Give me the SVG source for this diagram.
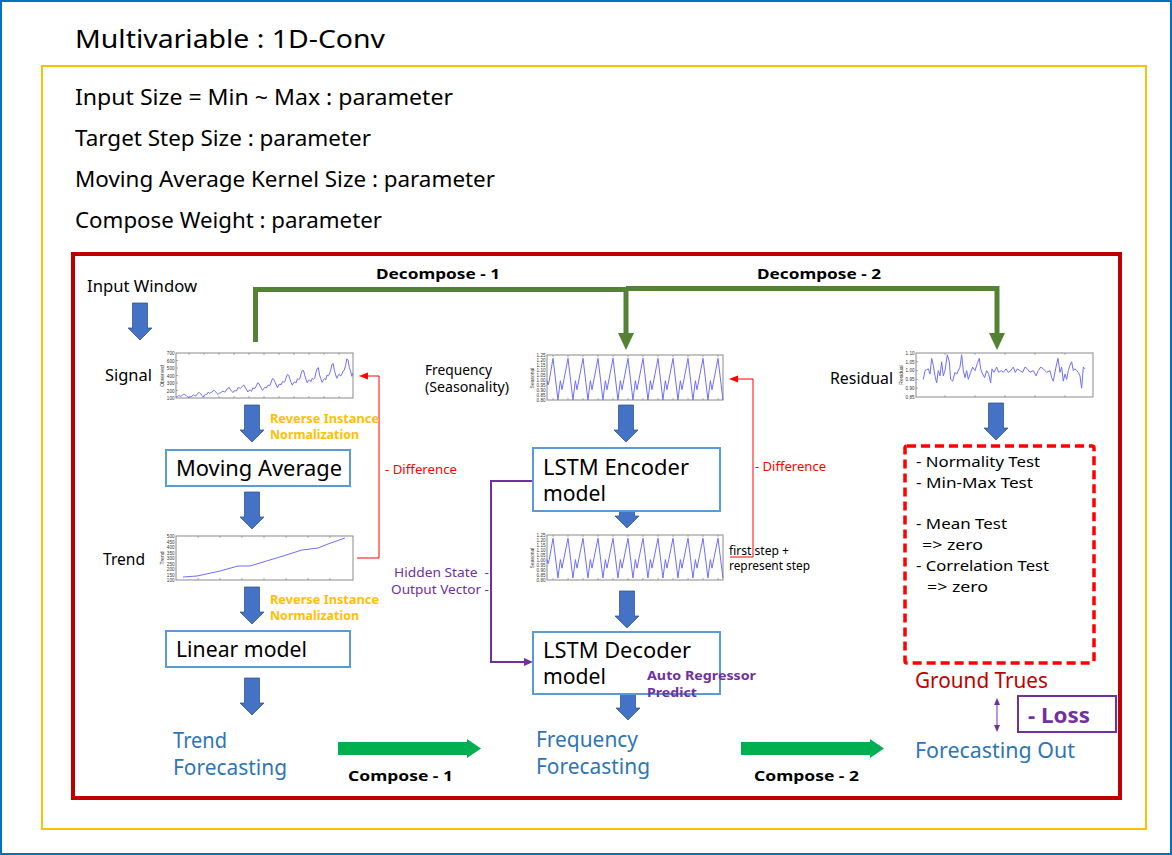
<svg xmlns="http://www.w3.org/2000/svg" xmlns:xlink="http://www.w3.org/1999/xlink" width="1172" height="855" viewBox="0 0 1172 855">
<style>
text{font-family:"Noto Sans","Open Sans",sans-serif;fill:#000}
.b{font-weight:700}
.box{fill:#fff;stroke:#5B9BD5;stroke-width:2}
.chart{fill:#fff;stroke:#8a8a8a;stroke-width:1}
.dl{fill:none;stroke:#6E6EFF;stroke-width:1;vector-effect:non-scaling-stroke}
.tk{fill:none;stroke:#777;stroke-width:0.6}
.fc{fill:#2E75B6}
.rin{fill:#FFC000;font-weight:700;font-size:13px}
.diff{fill:#FF0000;font-size:13px}
.pur{fill:#7030A0}
.tl{font-family:"Liberation Sans",sans-serif;font-size:4.6px;fill:#333}
.ax{font-family:"Liberation Sans",sans-serif;font-size:5px;fill:#333}
.red{fill:none;stroke:#FF0000;stroke-width:1}
.grn{fill:none;stroke:#548235;stroke-width:5}
</style>
<defs>
<path id="ba" d="M-7.5,0H7.5V25H12L0,37L-12,25H-7.5Z" fill="#4472C4" stroke="#2F528F" stroke-width="0.75"/>
<polyline id="seas" class="dl" points="-0.4,0.55 -0.33,0.65 -0.25,0.55 0,0.03 0.33,1 0.49,0.55 0.6,0.76 1,0.03 1.33,1 1.49,0.55 1.6,0.76 2,0.03 2.33,1 2.49,0.55 2.6,0.76 3,0.03 3.33,1 3.49,0.55 3.6,0.76 4,0.03 4.33,1 4.49,0.55 4.6,0.76 5,0.03 5.33,1 5.49,0.55 5.6,0.76 6,0.03 6.33,1 6.49,0.55 6.6,0.76 7,0.03 7.33,1 7.49,0.55 7.6,0.76 8,0.03 8.33,1 8.49,0.55 8.6,0.76 9,0.03 9.33,1 9.49,0.55 9.6,0.76 10,0.03 10.33,1 10.49,0.55 10.6,0.76 11,0.03 11.33,1"/>
</defs>

<rect x="1" y="1" width="1170" height="853" fill="#fff" stroke="#0070C0" stroke-width="2"/>
<text x="75" y="48" font-size="26" textLength="310" lengthAdjust="spacingAndGlyphs">Multivariable : 1D-Conv</text>
<rect x="42" y="66" width="1104" height="763" fill="none" stroke="#FFC000" stroke-width="2"/>

<g id="params" font-size="22">
<text x="75" y="105" font-size="22" textLength="378" lengthAdjust="spacingAndGlyphs">Input Size = Min ~ Max : parameter</text>
<text x="75" y="146" font-size="22" textLength="296" lengthAdjust="spacingAndGlyphs">Target Step Size : parameter</text>
<text x="75" y="187" font-size="22" textLength="420" lengthAdjust="spacingAndGlyphs">Moving Average Kernel Size : parameter</text>
<text x="75" y="228" font-size="22" textLength="307" lengthAdjust="spacingAndGlyphs">Compose Weight : parameter</text>
</g>

<rect x="73" y="254" width="1047" height="544" fill="none" stroke="#C00000" stroke-width="4"/>

<g id="connectors">
<path class="grn" d="M255.5,342V289.5H626"/>
<path class="grn" d="M626,288.5H997V334"/>
<path class="grn" d="M626,289V334"/>
<polygon points="618,333 634,333 626,350" fill="#548235"/>
<polygon points="989,333 1005,333 997,350" fill="#548235"/>
<text class="b" x="376" y="279" font-size="15" textLength="124" lengthAdjust="spacingAndGlyphs">Decompose - 1</text>
<text class="b" x="757" y="279" font-size="15" textLength="124" lengthAdjust="spacingAndGlyphs">Decompose - 2</text>
<use xlink:href="#ba" href="#ba" x="140" y="303"/>
<use xlink:href="#ba" href="#ba" x="252" y="405"/>
<use xlink:href="#ba" href="#ba" x="252" y="492"/>
<use xlink:href="#ba" href="#ba" x="252" y="587"/>
<use xlink:href="#ba" href="#ba" x="252" y="678"/>
<use xlink:href="#ba" href="#ba" x="626" y="405"/>
<use xlink:href="#ba" href="#ba" x="627" y="491"/>
<use xlink:href="#ba" href="#ba" x="627" y="591"/>
<use xlink:href="#ba" href="#ba" x="628" y="683"/>
<use xlink:href="#ba" href="#ba" x="996" y="403"/>
<path class="red" d="M357,558H379V376H367"/>
<polygon points="368,372.5 368,379.5 359,376" fill="#FF0000"/>
<text class="diff" x="385" y="474" textLength="72" lengthAdjust="spacingAndGlyphs">- Difference</text>
<path class="red" d="M730,557H753V379H737"/>
<polygon points="738,375.5 738,382.5 729,379" fill="#FF0000"/>
<text class="diff" x="755" y="471" textLength="71" lengthAdjust="spacingAndGlyphs">- Difference</text>
<path d="M533,481H491V662H524" fill="none" stroke="#7030A0" stroke-width="2"/>
<polygon points="524,658 524,666 533,662" fill="#7030A0"/>
<text class="pur" x="394" y="577" font-size="13" textLength="95" lengthAdjust="spacingAndGlyphs" xml:space="preserve">Hidden State  -</text>
<text class="pur" x="391" y="594" font-size="13" textLength="98" lengthAdjust="spacingAndGlyphs">Output Vector -</text>
<polygon points="338,742 467,742 467,739 481,748.5 467,758 467,755 338,755" fill="#00B050"/>
<polygon points="741,742 870,742 870,739 884,748.5 870,758 870,755 741,755" fill="#00B050"/>
<text class="b" x="348" y="781" font-size="15" textLength="105" lengthAdjust="spacingAndGlyphs">Compose - 1</text>
<text class="b" x="754" y="781" font-size="15" textLength="105" lengthAdjust="spacingAndGlyphs">Compose - 2</text>
<line x1="997" y1="704" x2="997" y2="726" stroke="#7030A0" stroke-width="1"/>
<polygon points="994,705 1000,705 997,698" fill="#7030A0"/>
<polygon points="994,725 1000,725 997,732" fill="#7030A0"/>
</g>

<g id="input-window">
<text x="87" y="292" font-size="16" textLength="110" lengthAdjust="spacingAndGlyphs">Input Window</text>
</g>

<g id="signal">
<text x="105" y="381" font-size="17" textLength="47" lengthAdjust="spacingAndGlyphs">Signal</text>
<rect class="chart" x="176" y="353" width="177" height="45"/>
<path class="tk" d="M189,353v2M204,353v2M219,353v2M234,353v2M249,353v2M264,353v2M279,353v2M294,353v2M309,353v2M324,353v2M339,353v2M189,398v-2M204,398v-2M219,398v-2M234,398v-2M249,398v-2M264,398v-2M279,398v-2M294,398v-2M309,398v-2M324,398v-2M339,398v-2M176,360.5h2M176,368h2M176,375.5h2M176,383h2M176,390.5h2"/>
<g text-anchor="end">
<text class="tl" x="174.5" y="355">700</text><text class="tl" x="174.5" y="362.5">600</text><text class="tl" x="174.5" y="370">500</text><text class="tl" x="174.5" y="377.5">400</text><text class="tl" x="174.5" y="385">300</text><text class="tl" x="174.5" y="392.5">200</text><text class="tl" x="174.5" y="399.5">100</text>
</g>
<text class="ax" transform="translate(163.5,376) rotate(-90)" text-anchor="middle">Observed</text>
<polyline class="dl" transform="matrix(1.2378,0,0,-0.075,176,405.5)" points="0,112 1,118 2,132 3,129 4,121 5,135 6,148 7,148 8,136 9,119 10,104 11,118 12,115 13,126 14,141 15,135 16,125 17,149 18,170 19,170 20,158 21,133 22,114 23,140 24,145 25,150 26,178 27,163 28,172 29,178 30,199 31,199 32,184 33,162 34,146 35,166 36,171 37,180 38,193 39,181 40,183 41,218 42,230 43,242 44,209 45,191 46,172 47,194 48,196 49,196 50,236 51,235 52,229 53,243 54,264 55,272 56,237 57,211 58,180 59,201 60,204 61,188 62,235 63,227 64,234 65,264 66,302 67,293 68,259 69,229 70,203 71,229 72,242 73,233 74,267 75,269 76,270 77,315 78,364 79,347 80,312 81,274 82,237 83,278 84,284 85,277 86,317 87,313 88,318 89,374 90,413 91,405 92,355 93,306 94,271 95,306 96,315 97,301 98,356 99,348 100,355 101,422 102,465 103,467 104,404 105,347 106,305 107,336 108,340 109,318 110,362 111,348 112,363 113,435 114,491 115,505 116,404 117,359 118,310 119,337 120,360 121,342 122,406 123,396 124,420 125,472 126,548 127,559 128,463 129,407 130,362 131,405 132,417 133,391 134,419 135,461 136,472 137,535 138,622 139,606 140,508 141,461 142,390 143,432"/>
<text class="rin" x="270" y="423" textLength="109" lengthAdjust="spacingAndGlyphs">Reverse Instance</text>
<text class="rin" x="270" y="439" textLength="89" lengthAdjust="spacingAndGlyphs">Normalization</text>
</g>

<g id="moving-average">
<rect class="box" x="166" y="450" width="184" height="36"/>
<text x="176" y="476" font-size="21" textLength="166" lengthAdjust="spacingAndGlyphs">Moving Average</text>
</g>

<g id="trend">
<text x="103" y="565" font-size="17" textLength="42" lengthAdjust="spacingAndGlyphs">Trend</text>
<rect class="chart" x="176" y="536" width="177" height="44"/>
<path class="tk" d="M198,536v2M220,536v2M242,536v2M264,536v2M286,536v2M308,536v2M330,536v2M198,580v-2M220,580v-2M242,580v-2M264,580v-2M286,580v-2M308,580v-2M330,580v-2"/>
<g text-anchor="end">
<text class="tl" x="174.5" y="538">500</text><text class="tl" x="174.5" y="543.5">450</text><text class="tl" x="174.5" y="549">400</text><text class="tl" x="174.5" y="554.5">350</text><text class="tl" x="174.5" y="560">300</text><text class="tl" x="174.5" y="565.5">250</text><text class="tl" x="174.5" y="571">200</text><text class="tl" x="174.5" y="576.5">150</text><text class="tl" x="174.5" y="582">100</text>
</g>
<text class="ax" transform="translate(163.5,558) rotate(-90)" text-anchor="middle">Trend</text>
<polyline class="dl" points="183,577 197,576 220,571 238,566 250,566 260,563 283,556 302,550 318,548 328,544 345,538"/>
<text class="rin" x="270" y="604" textLength="109" lengthAdjust="spacingAndGlyphs">Reverse Instance</text>
<text class="rin" x="270" y="620" textLength="89" lengthAdjust="spacingAndGlyphs">Normalization</text>
</g>

<g id="linear-model">
<rect class="box" x="166" y="631" width="184" height="36"/>
<text x="176" y="657" font-size="21" textLength="131" lengthAdjust="spacingAndGlyphs">Linear model</text>
</g>

<g id="trend-forecasting">
<text class="fc" x="173" y="748" font-size="21" textLength="54" lengthAdjust="spacingAndGlyphs">Trend</text>
<text class="fc" x="173" y="775" font-size="21" textLength="114" lengthAdjust="spacingAndGlyphs">Forecasting</text>
</g>

<g id="frequency">
<text x="425" y="375" font-size="14" textLength="67" lengthAdjust="spacingAndGlyphs">Frequency</text>
<text x="425" y="392" font-size="14" textLength="84" lengthAdjust="spacingAndGlyphs">(Seasonality)</text>
<rect class="chart" x="547" y="355" width="176" height="45"/>
<path class="tk" d="M553,355v2M568,355v2M583,355v2M598,355v2M613,355v2M628,355v2M643,355v2M658,355v2M673,355v2M688,355v2M703,355v2M718,355v2M553,400v-2M568,400v-2M583,400v-2M598,400v-2M613,400v-2M628,400v-2M643,400v-2M658,400v-2M673,400v-2M688,400v-2M703,400v-2M718,400v-2"/>
<g text-anchor="end">
<text class="tl" x="545.5" y="357">1.25</text><text class="tl" x="545.5" y="362">1.20</text><text class="tl" x="545.5" y="367">1.15</text><text class="tl" x="545.5" y="372">1.10</text><text class="tl" x="545.5" y="377">1.05</text><text class="tl" x="545.5" y="382">1.00</text><text class="tl" x="545.5" y="387">0.95</text><text class="tl" x="545.5" y="392">0.90</text><text class="tl" x="545.5" y="397">0.85</text><text class="tl" x="545.5" y="402">0.80</text>
</g>
<text class="ax" transform="translate(533.5,378) rotate(-90)" text-anchor="middle">Seasonal</text>
<use xlink:href="#seas" href="#seas" transform="matrix(15,0,0,43,553,357)"/>
</g>

<g id="lstm-encoder">
<rect class="box" x="533" y="448" width="187" height="63"/>
<text x="543" y="475" font-size="21" textLength="146" lengthAdjust="spacingAndGlyphs">LSTM Encoder</text>
<text x="543" y="501" font-size="21" textLength="63" lengthAdjust="spacingAndGlyphs">model</text>
</g>

<g id="frequency-step">
<rect class="chart" x="547" y="535" width="176" height="45"/>
<path class="tk" d="M553,535v2M568,535v2M583,535v2M598,535v2M613,535v2M628,535v2M643,535v2M658,535v2M673,535v2M688,535v2M703,535v2M718,535v2M553,580v-2M568,580v-2M583,580v-2M598,580v-2M613,580v-2M628,580v-2M643,580v-2M658,580v-2M673,580v-2M688,580v-2M703,580v-2M718,580v-2"/>
<g text-anchor="end">
<text class="tl" x="545.5" y="537">1.25</text><text class="tl" x="545.5" y="542">1.20</text><text class="tl" x="545.5" y="547">1.15</text><text class="tl" x="545.5" y="552">1.10</text><text class="tl" x="545.5" y="557">1.05</text><text class="tl" x="545.5" y="562">1.00</text><text class="tl" x="545.5" y="567">0.95</text><text class="tl" x="545.5" y="572">0.90</text><text class="tl" x="545.5" y="577">0.85</text><text class="tl" x="545.5" y="582">0.80</text>
</g>
<text class="ax" transform="translate(533.5,558) rotate(-90)" text-anchor="middle">Seasonal</text>
<use xlink:href="#seas" href="#seas" transform="matrix(15,0,0,41,553,537)"/>
<text x="729" y="555" font-size="12" textLength="60" lengthAdjust="spacingAndGlyphs">first step +</text>
<text x="729" y="570" font-size="12" textLength="81" lengthAdjust="spacingAndGlyphs">represent step</text>
</g>

<g id="lstm-decoder">
<rect class="box" x="533" y="632" width="187" height="62"/>
<text x="543" y="658" font-size="21" textLength="148" lengthAdjust="spacingAndGlyphs">LSTM Decoder</text>
<text x="543" y="684" font-size="21" textLength="63" lengthAdjust="spacingAndGlyphs">model</text>
<text class="pur b" x="647" y="680" font-size="13" textLength="109" lengthAdjust="spacingAndGlyphs">Auto Regressor</text>
<text class="pur b" x="647" y="697" font-size="13" textLength="50" lengthAdjust="spacingAndGlyphs">Predict</text>
</g>

<g id="frequency-forecasting">
<text class="fc" x="536" y="747" font-size="21" textLength="102" lengthAdjust="spacingAndGlyphs">Frequency</text>
<text class="fc" x="536" y="774" font-size="21" textLength="114" lengthAdjust="spacingAndGlyphs">Forecasting</text>
</g>

<g id="residual">
<text x="830" y="384" font-size="17" textLength="63" lengthAdjust="spacingAndGlyphs">Residual</text>
<rect class="chart" x="916" y="353" width="177" height="44"/>
<path class="tk" d="M945,353v2M975,353v2M1005,353v2M1035,353v2M1065,353v2M945,397v-2M975,397v-2M1005,397v-2M1035,397v-2M1065,397v-2M916,361.8h2M916,370.6h2M916,379.4h2M916,388.2h2"/>
<g text-anchor="end">
<text class="tl" x="914.5" y="355">1.10</text><text class="tl" x="914.5" y="363.5">1.05</text><text class="tl" x="914.5" y="372.3">1.00</text><text class="tl" x="914.5" y="381.1">0.95</text><text class="tl" x="914.5" y="389.9">0.90</text><text class="tl" x="914.5" y="398.5">0.85</text>
</g>
<text class="ax" transform="translate(902.5,375) rotate(-90)" text-anchor="middle">Residual</text>
<polyline class="dl" transform="matrix(0.3333,0,0,-176,820,546.6)" points="310,0.95 315,1.0 325,1.01 330,0.98 335,1.07 340,1.03 345,0.97 350,0.93 355,1.0 360,0.97 365,1.05 370,0.97 375,1.0 382,1.09 388,1.05 392,0.95 398,0.94 405,0.99 410,0.98 420,1.02 425,1.09 430,1.0 435,0.96 440,1.0 445,0.95 452,0.99 458,1.02 465,1.0 472,1.04 478,1.07 482,1.01 488,0.98 494,0.96 500,1.0 506,0.98 512,0.93 516,1.01 522,0.99 530,1.02 536,0.99 544,1.0 550,0.99 558,1.01 565,0.99 572,1.0 580,1.02 586,0.99 592,1.01 600,1.0 608,0.99 615,1.02 622,1.01 630,0.99 640,1.0 648,0.97 655,1.0 662,1.02 670,1.01 680,0.99 690,1.0 695,0.96 700,0.94 708,1.02 714,1.07 720,0.99 725,1.02 730,0.94 735,0.98 740,0.95 745,1.0 750,1.03 755,1.05 760,1.0 765,1.01 770,1.0 775,0.99 780,0.97 785,0.9 790,1.02 795,1.01"/>
</g>

<g id="tests">
<rect x="905" y="446" width="189" height="217" rx="2" fill="none" stroke="#FF0000" stroke-width="3.5" stroke-dasharray="9 5"/>
<g font-size="15">
<text x="916" y="467" font-size="15" textLength="124" lengthAdjust="spacingAndGlyphs">- Normality Test</text>
<text x="916" y="488" font-size="15" textLength="117" lengthAdjust="spacingAndGlyphs">- Min-Max Test</text>
<text x="916" y="529" font-size="15" textLength="91" lengthAdjust="spacingAndGlyphs">- Mean Test</text>
<text x="922" y="550" font-size="15" textLength="61" lengthAdjust="spacingAndGlyphs">=&gt; zero</text>
<text x="916" y="571" font-size="15" textLength="133" lengthAdjust="spacingAndGlyphs">- Correlation Test</text>
<text x="927" y="592" font-size="15" textLength="61" lengthAdjust="spacingAndGlyphs">=&gt; zero</text>
</g>
</g>

<g id="ground-trues">
<text x="915" y="688" font-size="21" style="fill:#C00000" textLength="133" lengthAdjust="spacingAndGlyphs">Ground Trues</text>
</g>

<g id="loss">
<rect x="1018" y="696" width="98" height="36" fill="#fff" stroke="#7030A0" stroke-width="2"/>
<text class="pur b" x="1028" y="723" font-size="22" textLength="62" lengthAdjust="spacingAndGlyphs">- Loss</text>
</g>

<g id="forecasting-out">
<text class="fc" x="915" y="758" font-size="21" textLength="160" lengthAdjust="spacingAndGlyphs">Forecasting Out</text>
</g>
</svg>
